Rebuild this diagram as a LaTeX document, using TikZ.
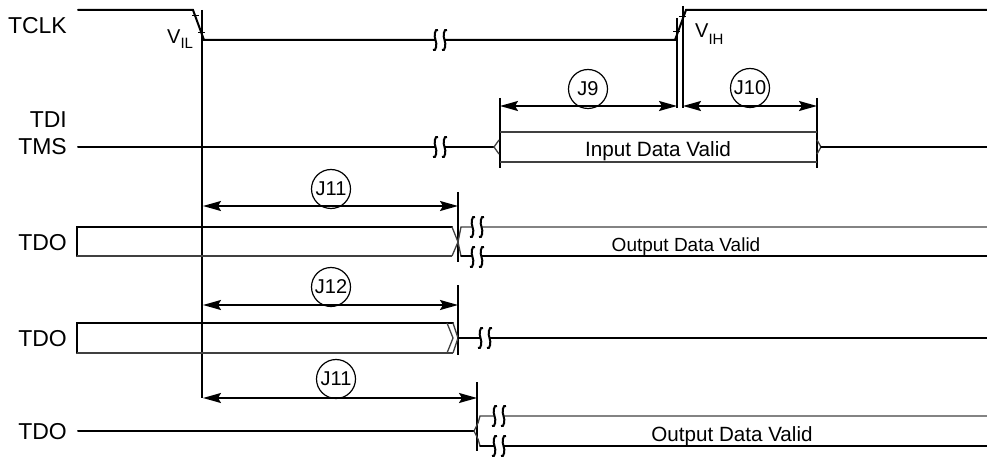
\documentclass[tikz,border=0pt]{standalone}
\usepackage{fontspec}
\setmainfont{Liberation Sans}
\usepackage{tikz}
\usetikzlibrary{arrows.meta}

\begin{document}
\begin{tikzpicture}[x=1pt,y=-1pt,
  sig/.style={line width=2pt, line cap=round},
  thin/.style={line width=1.3pt, black!75},
  vref/.style={line width=2pt},
  dim/.style={line width=1.8pt, {Stealth[length=18pt,width=10pt,inset=3pt]}-{Stealth[length=18pt,width=10pt,inset=3pt]}},
  lbl/.style={font=\fontsize{23}{23}\selectfont, inner sep=0pt, anchor=base east},
  buslbl/.style={inner sep=0pt, anchor=base},
  jmark/.style={circle, draw, line width=1.2pt, inner sep=0pt, minimum size=39pt, font=\fontsize{20}{20}\selectfont},
  brk/.pic={
    \fill[white] (-4.5,-2.5) rectangle (4.5,2.5);
    \foreach \d in {-4.5,4.5}
      \draw[line width=2pt, xshift=\d pt] (2.5,-10) .. controls (-0.5,-12) and (-1.8,-4) .. (0,0) .. controls (1.8,4) and (0.5,12) .. (-2.5,10);
  }]
\useasboundingbox (0,0) rectangle (987,457);
% TCLK
\draw [sig] (78,10) -- (193,10) -- (204,40) -- (675,40) -- (686,10) -- (987,10);
\draw [line width=1pt] (192,16) -- (199,16) (198,33) -- (205,33);
\draw [line width=1pt] (673,32) -- (680,32) (679,17) -- (686,17);
\pic at (440,40) {brk};
% опорные линии
\coordinate (fallT) at (202,10);  \coordinate (fallB) at (202,398);
\coordinate (riseAT) at (677,18); \coordinate (riseAB) at (677,108);
\coordinate (riseBT) at (683,6);  \coordinate (riseBB) at (683,108);
\coordinate (inAT) at (500,98);   \coordinate (inAB) at (500,168);
\coordinate (inBT) at (817,98);   \coordinate (inBB) at (817,168);
\coordinate (oAT) at (458,192);   \coordinate (oAB) at (458,262);
\coordinate (oBT) at (458,285);   \coordinate (oBB) at (458,355);
\coordinate (oCT) at (477,382);   \coordinate (oCB) at (477,451);
\draw [vref] (fallT) -- (fallB);
\draw [vref] (riseAT) -- (riseAB);
\draw [vref] (riseBT) -- (riseBB);
\draw [vref] (inAT) -- (inAB);
\draw [vref] (inBT) -- (inBB);
\draw [vref] (oAT) -- (oAB);
\draw [vref] (oBT) -- (oBB);
\draw [vref] (oCT) -- (oCB);
% TDI / TMS
\draw [sig] (78,147) -- (494,147);
\draw [thin] (499,140) -- (494,147) -- (499,154);
\draw [thin] (500,132) -- (817,132) (500,162) -- (817,162);
\draw [thin] (817,140) -- (821,147) -- (817,154);
\draw [sig] (821,147) -- (987,147);
\pic at (440,147) {brk};
\node (indata) [buslbl, font=\fontsize{20.7}{20.7}\selectfont] at (658,157) {Input Data Valid};
% TDO 1
\draw [sig] (452,227) -- (77,227) -- (77,256);
\draw [thin] (77,256) -- (452,256);
\draw [thin] (452,227) -- (458,242) -- (452,256);
\draw [thin] (458,242) -- (461,227) -- (987,227);
\draw [thin] (458,242) -- (461,256);
\draw [sig] (461,256) -- (987,256);
\pic at (477,227) {brk};
\pic at (477,257) {brk};
\node (outA) [buslbl, font=\fontsize{19}{19}\selectfont] at (686,251) {Output Data Valid};
% TDO 2
\draw [sig] (453,323) -- (77,323) -- (77,353);
\draw [thin] (77,353) -- (453,353);
\draw [thin] (447,323) -- (453,338) -- (447,353);
\draw [thin] (453,323) -- (458,338) -- (453,353);
\draw [sig] (458,338) -- (987,338);
\pic at (485,338) {brk};
% TDO 3
\draw [sig] (78,431) -- (474,431);
\draw [thin] (474,431) -- (478,423) -- (480,416) -- (987,416);
\draw [thin] (474,431) -- (478,439) -- (480,446);
\draw [sig] (480,446) -- (987,446);
\pic at (499,416) {brk};
\pic at (499,446) {brk};
\node (outC) [buslbl, font=\fontsize{20.6}{20.6}\selectfont] at (732,441) {Output Data Valid};
% размеры
\coordinate (j9l) at (500,106);  \coordinate (j9r) at (677,106);
\coordinate (j10l) at (683,106); \coordinate (j10r) at (817,106);
\coordinate (j11l) at (203,206); \coordinate (j11r) at (458,206);
\coordinate (j12l) at (203,305); \coordinate (j12r) at (458,305);
\coordinate (j13l) at (203,398); \coordinate (j13r) at (477,398);
\draw [dim] (j9l) -- (j9r);
\draw [dim] (j10l) -- (j10r);
\draw [dim] (j11l) -- (j11r);
\draw [dim] (j12l) -- (j12r);
\draw [dim] (j13l) -- (j13r);
\node (cj9) [jmark] at (588,89) {J9};
\node (cj10) [jmark] at (750,88) {J10};
\node (cj11) [jmark] at (331,189) {J11};
\node (cj12) [jmark] at (331,287) {J12};
\node (cj13) [jmark] at (336,379) {J11};
% подписи
\node (tclk) [lbl] at (67,34) {TCLK};
\node (tdi) [lbl] at (67,128) {TDI};
\node (tms) [lbl] at (67,155) {TMS};
\node (tdoA) [lbl] at (67,250) {TDO};
\node (tdoB) [lbl] at (67,346) {TDO};
\node (tdoC) [lbl] at (67,439) {TDO};
\node (vil) [inner sep=0pt, anchor=base west, font=\fontsize{20}{20}\selectfont] at (167,44) {V\raisebox{-5pt}{\fontsize{15}{15}\selectfont IL}};
\node (vih) [inner sep=0pt, anchor=base west, font=\fontsize{20}{20}\selectfont] at (695,38) {V\raisebox{-7pt}{\fontsize{15}{15}\selectfont IH}};
\end{tikzpicture}
\end{document}
